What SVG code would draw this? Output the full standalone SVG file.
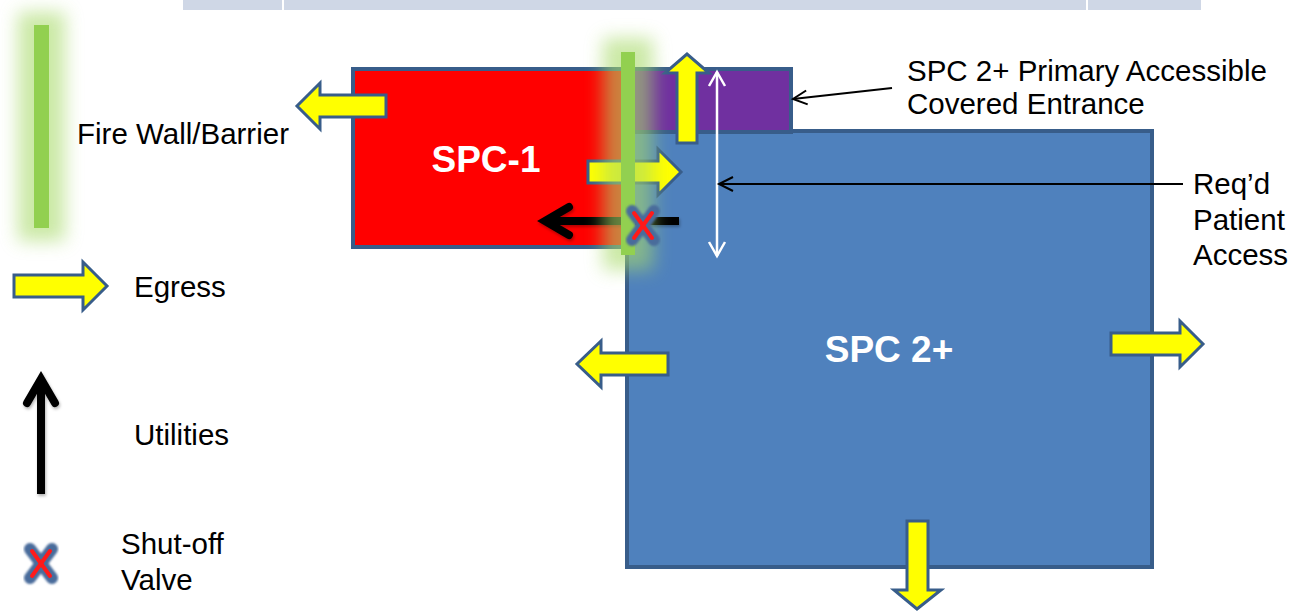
<svg xmlns="http://www.w3.org/2000/svg" width="1291" height="611" viewBox="0 0 1291 611">
<defs>
<style>
.lbl{font-family:"Liberation Sans",Arial,sans-serif;font-size:29.5px;fill:#000}
.big{font-family:"Liberation Sans",Arial,sans-serif;font-size:37px;font-weight:bold;fill:#fff;text-anchor:middle}
.egress{fill:#FFFF00;stroke:#385D8A;stroke-width:3;stroke-linejoin:miter}
.room{stroke:#385D8A;stroke-width:4}
.util{stroke:#000;stroke-width:8;fill:none}
.wallglow{fill:#A8DA6A;opacity:0.6}
.wall{fill:#92D050}
.xo{stroke:#4A6C9B;stroke-width:12;stroke-linecap:round}
.xi{stroke:#FF1A1A;stroke-width:4;stroke-linecap:round}
.band{fill:#CFD7E6}
</style>
<filter id="glow" x="-200%" y="-30%" width="500%" height="160%">
<feGaussianBlur stdDeviation="9"/>
</filter>
<filter id="shadow" filterUnits="userSpaceOnUse" x="0" y="0" width="1291" height="611">
<feDropShadow dx="1" dy="2" stdDeviation="1.5" flood-color="#000" flood-opacity="0.3"/>
</filter>
<filter id="soft" x="-30%" y="-30%" width="160%" height="160%">
<feGaussianBlur stdDeviation="0.8"/>
</filter>
<marker id="chevThin" viewBox="-20 -10 24 20" refX="0" refY="0" markerWidth="24" markerHeight="20" markerUnits="userSpaceOnUse" orient="auto-start-reverse" overflow="visible">
<path d="M-14,-7 L0,0 L-14,7" fill="none" stroke="#000" stroke-width="2"/>
</marker>
<marker id="chevWhite" viewBox="-20 -10 24 20" refX="0" refY="0" markerWidth="24" markerHeight="20" markerUnits="userSpaceOnUse" orient="auto-start-reverse" overflow="visible">
<path d="M-14,-8 L0,0 L-14,8" fill="none" stroke="#fff" stroke-width="2.5"/>
</marker>
<marker id="chevThick" viewBox="-30 -18 36 36" refX="0" refY="0" markerWidth="36" markerHeight="36" markerUnits="userSpaceOnUse" orient="auto" overflow="visible">
<path d="M-24,-14 L0,0 L-24,14" fill="none" stroke="#000" stroke-width="8" stroke-linecap="round"/>
</marker>
</defs>

<rect width="1291" height="611" fill="#fff"/>

<g id="top-band">
<rect class="band" x="183" y="0" width="99" height="10"/>
<rect class="band" x="284" y="0" width="802" height="10"/>
<rect class="band" x="1088" y="0" width="113" height="10"/>
</g>

<g id="legend">
<g id="legend-firewall">
<rect class="wallglow" x="18" y="12" width="47" height="229" filter="url(#glow)"/>
<rect class="wall" x="34" y="25" width="15" height="203"/>
<text class="lbl" x="77" y="144">Fire Wall/Barrier</text>
</g>
<g id="legend-egress">
<polygon class="egress" points="14,275 83,275 83,262 107,286 83,310 83,297 14,297"/>
<text class="lbl" x="134" y="297">Egress</text>
</g>
<g id="legend-utilities">
<line class="util" x1="41" y1="494" x2="41" y2="379" marker-end="url(#chevThick)" filter="url(#shadow)"/>
<text class="lbl" x="134" y="445">Utilities</text>
</g>
<g id="legend-valve">
<g filter="url(#soft)">
<line class="xo" x1="30" y1="549" x2="52" y2="578"/>
<line class="xo" x1="52" y1="549" x2="30" y2="578"/>
</g>
<line class="xi" x1="32" y1="551" x2="50" y2="576"/>
<line class="xi" x1="50" y1="551" x2="32" y2="576"/>
<text class="lbl" x="121" y="554">Shut-off</text>
<text class="lbl" x="121" y="590">Valve</text>
</g>
</g>

<g id="spc2">
<rect class="room" x="627" y="131" width="525" height="436" fill="#4F81BD"/>
<text class="big" x="889" y="362">SPC 2+</text>
</g>

<g id="spc1">
<rect class="room" x="353" y="69" width="275" height="178" fill="#FF0000"/>
<text class="big" x="486" y="172">SPC-1</text>
</g>

<g id="entrance">
<rect class="room" x="627" y="69" width="164" height="63" fill="#7030A0"/>
</g>

<g id="connectors">
<polygon class="egress" points="386,95 320,95 320,83 297,106 320,129 320,117 386,117"/>
<polygon class="egress" points="677,143 677,73 665,73 687,54 709,73 697,73 697,143"/>
<polygon class="egress" points="588,161 658,161 658,149 681,172 658,195 658,183 588,183"/>
<polygon class="egress" points="668,353 601,353 601,341 577,364 601,387 601,375 668,375"/>
<polygon class="egress" points="1111,333 1180,333 1180,321 1203,344 1180,367 1180,355 1111,355"/>
<polygon class="egress" points="907,521 928,521 928,590 941,590 917,609 894,590 907,590"/>
<line class="util" x1="679" y1="221" x2="545" y2="221" marker-end="url(#chevThick)" filter="url(#shadow)"/>
<line x1="717" y1="72" x2="717" y2="256" stroke="#fff" stroke-width="2.5" marker-start="url(#chevWhite)" marker-end="url(#chevWhite)"/>
<line x1="1183" y1="184" x2="719" y2="184" stroke="#000" stroke-width="2" marker-end="url(#chevThin)"/>
<line x1="892" y1="88" x2="793" y2="99" stroke="#000" stroke-width="2" marker-end="url(#chevThin)"/>
</g>

<g id="firewall">
<rect class="wallglow" x="603" y="38" width="50" height="232" filter="url(#glow)"/>
<rect class="wall" x="621" y="52" width="14" height="203"/>
</g>

<g id="valve">
<g filter="url(#soft)">
<line class="xo" x1="632" y1="211" x2="654" y2="240"/>
<line class="xo" x1="654" y1="211" x2="632" y2="240"/>
</g>
<line class="xi" x1="634" y1="213" x2="652" y2="238"/>
<line class="xi" x1="652" y1="213" x2="634" y2="238"/>
</g>

<g id="labels">
<text class="lbl" x="907" y="81">SPC 2+ Primary Accessible</text>
<text class="lbl" x="907" y="114">Covered Entrance</text>
<text class="lbl" x="1193" y="194">Req’d</text>
<text class="lbl" x="1193" y="230">Patient</text>
<text class="lbl" x="1193" y="265">Access</text>
</g>
</svg>
